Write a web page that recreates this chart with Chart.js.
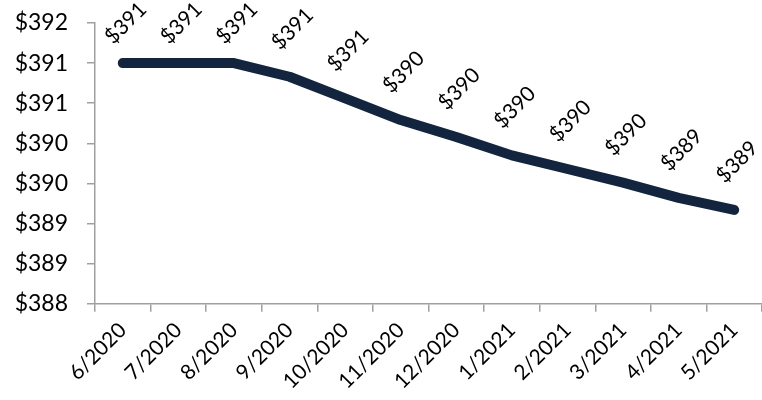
<!DOCTYPE html>
<html>
<head>
<meta charset="utf-8">
<script src="https://cdn.jsdelivr.net/npm/chart.js"></script>
<style>
  body { margin: 0; background: #fff; }
  #wrap { width: 762px; height: 400px; position: relative; }
</style>
</head>
<body>
<div id="wrap"><canvas id="priceChart"></canvas></div>
<script>
// Chart data
const months = ['6/2020', '7/2020', '8/2020', '9/2020', '10/2020', '11/2020',
                '12/2020', '1/2021', '2/2021', '3/2021', '4/2021', '5/2021'];
const prices = [391.0, 391.0, 391.0, 390.83, 390.56, 390.29,
                390.08, 389.85, 389.68, 389.51, 389.32, 389.17];
const yMin = 388;
const yMax = 391.5;
const yStep = 0.5;

const dollar = v => '$' + Math.round(v);

// Rotated value labels above each point
const valueLabels = {
  id: 'valueLabels',
  afterDatasetsDraw(chart) {
    const ctx = chart.ctx;
    const meta = chart.getDatasetMeta(0);
    ctx.save();
    ctx.font = '21px Lato';
    ctx.fillStyle = '#000';
    ctx.textAlign = 'center';
    ctx.textBaseline = 'middle';
    meta.data.forEach((pt, i) => {
      const cy = Math.max(pt.y - 48, 23);
      ctx.save();
      ctx.translate(pt.x + 3, cy);
      ctx.rotate(-Math.PI / 4);
      ctx.fillText(dollar(prices[i]), 0, 0);
      ctx.restore();
    });
    ctx.restore();
  }
};

Chart.defaults.font.family = 'Lato';
Chart.defaults.font.size = 21;
Chart.defaults.color = '#000';

const axisGrey = '#a0a0a0';

new Chart(document.getElementById('priceChart').getContext('2d'), {
  type: 'line',
  data: {
    labels: months,
    datasets: [{
      data: prices,
      borderColor: '#13253e',
      borderWidth: 10,
      borderCapStyle: 'round',
      borderJoinStyle: 'round',
      pointRadius: 0,
      tension: 0,
      fill: false
    }]
  },
  options: {
    responsive: true,
    maintainAspectRatio: false,
    animation: false,
    layout: { padding: { left: 0, top: 23, right: 0, bottom: 0 } },
    plugins: {
      legend: { display: false },
      tooltip: { enabled: false }
    },
    scales: {
      x: {
        offset: true,
        grid: {
          offset: true,
          drawOnChartArea: false,
          tickLength: 8,
          lineWidth: 1.5,
          color: axisGrey
        },
        border: { color: axisGrey, width: 1.5 },
        ticks: {
          maxRotation: 45,
          minRotation: 45,
          padding: 6,
          autoSkip: false
        }
      },
      y: {
        min: yMin,
        max: yMax,
        afterFit: scale => {
          scale.width = 95;
          scale.paddingTop = 0;
          scale.paddingBottom = 0;
        },
        grid: {
          drawOnChartArea: false,
          tickLength: 8,
          lineWidth: 1.5,
          color: axisGrey
        },
        border: { color: axisGrey, width: 1.5 },
        ticks: {
          stepSize: yStep,
          padding: 19,
          font: { size: 23 },
          callback: v => dollar(v)
        }
      }
    }
  },
  plugins: [valueLabels]
});
</script>
</body>
</html>
